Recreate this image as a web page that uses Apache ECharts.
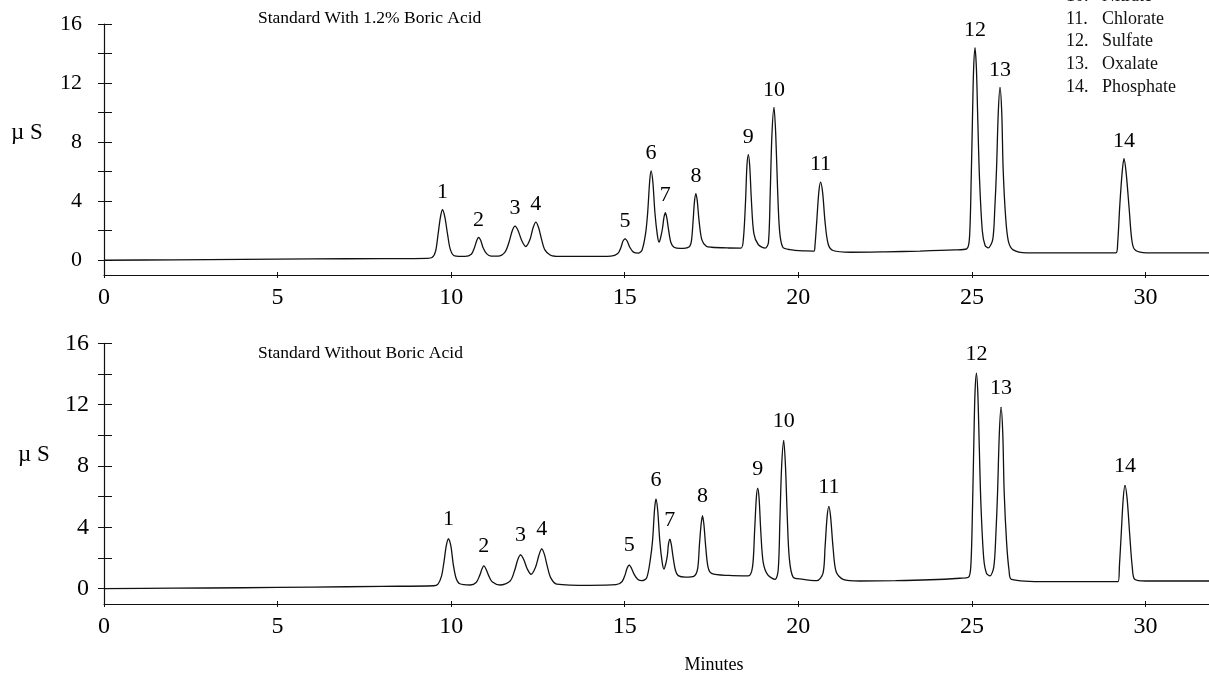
<!DOCTYPE html>
<html>
<head>
<meta charset="utf-8">
<title>Anion standard chromatograms</title>
<script src="https://cdn.jsdelivr.net/npm/echarts@6/dist/echarts.min.js"></script>
<style>
  html, body { margin: 0; padding: 0; background: #fff; }
  #chart { width: 1209px; height: 675px; }
</style>
</head>
<body>
<div id="chart"></div>
<script>
// ---- data ----------------------------------------------------------
const peakNumbers = ['1','2','3','4','5','6','7','8','9','10','11','12','13','14'];

// Retention time (min) and height (µS) of each numbered peak
const topPeakTimes   = [9.75, 10.79, 11.84, 12.44, 15.01, 15.76, 16.17, 17.05, 18.56, 19.30, 20.64, 25.09, 25.81, 29.38];
const topPeakHeights = [3.42, 1.54, 2.31, 2.58, 1.45, 6.04, 3.21, 4.50, 7.14, 10.33, 5.29, 14.37, 11.69, 6.87];
const botPeakTimes   = [9.92, 10.94, 12.00, 12.61, 15.13, 15.90, 16.30, 17.24, 18.83, 19.58, 20.88, 25.13, 25.84, 29.41];
const botPeakHeights = [3.24, 1.48, 2.20, 2.59, 1.54, 5.83, 3.22, 4.74, 6.54, 9.65, 5.35, 14.04, 11.82, 6.72];

// Detector trace between the peak maxima: [minutes, µS]
const topTrace = [
  [0, 0.00], [2, 0.03], [4, 0.06], [6, 0.09], [8, 0.11], [9.3, 0.13],
  [9.45, 0.18], [9.55, 0.6], [9.62, 1.7], [9.69, 2.9], [9.82, 2.9], [9.9, 1.7], [9.98, 0.7], [10.1, 0.3],
  [10.4, 0.26],
  [10.58, 0.4], [10.67, 0.85], [10.74, 1.35], [10.85, 1.35], [10.92, 0.85], [11.02, 0.45], [11.15, 0.28],
  [11.35, 0.28],
  [11.55, 0.55], [11.67, 1.25], [11.76, 2.0], [11.93, 2.0], [12.03, 1.35], [12.15, 0.93],
  [12.27, 1.4], [12.36, 2.2], [12.52, 2.2], [12.6, 1.45], [12.7, 0.7], [12.85, 0.35], [13.0, 0.27],
  [14.0, 0.26], [14.6, 0.28],
  [14.8, 0.45], [14.89, 0.86], [14.95, 1.3], [15.07, 1.3], [15.15, 0.86], [15.25, 0.55], [15.39, 0.48],
  [15.5, 0.7], [15.6, 1.8], [15.66, 3.2], [15.72, 5.4], [15.81, 5.3], [15.87, 3.2], [15.94, 1.7], [15.99, 1.22],
  [16.05, 1.7], [16.09, 2.2], [16.13, 2.9], [16.21, 2.9], [16.26, 2.1], [16.33, 1.2], [16.42, 0.88],
  [16.6, 0.8], [16.85, 0.9],
  [16.92, 1.3], [16.97, 2.7], [17.01, 4.0], [17.09, 4.0], [17.14, 2.7], [17.22, 1.4], [17.35, 0.95], [17.5, 0.88],
  [18.0, 0.83], [18.35, 0.82],
  [18.42, 1.5], [18.48, 4.0], [18.52, 6.4], [18.6, 6.4], [18.65, 4.0], [18.72, 1.8], [18.85, 1.05], [19.05, 0.82],
  [19.14, 1.2], [19.19, 4.5], [19.24, 8.5], [19.35, 8.5], [19.4, 5.0], [19.46, 2.0], [19.55, 0.9], [19.75, 0.72],
  [20.2, 0.63], [20.45, 0.62],
  [20.48, 1.0], [20.53, 2.6], [20.59, 4.6], [20.7, 4.6], [20.77, 2.6], [20.86, 1.1], [21.0, 0.66], [21.5, 0.54],
  [22.5, 0.57], [23.5, 0.62], [24.5, 0.7], [24.85, 0.77],
  [24.93, 1.5], [24.98, 5.5], [25.02, 10.0], [25.05, 13.0], [25.13, 13.0], [25.17, 9.5], [25.22, 5.5], [25.3, 2.0], [25.38, 1.0], [25.47, 0.84],
  [25.6, 1.4], [25.66, 3.5], [25.71, 6.2], [25.76, 10.0], [25.86, 10.0], [25.9, 6.2], [25.97, 3.0], [26.05, 1.3], [26.19, 0.7], [26.58, 0.5],
  [27.5, 0.5], [28.5, 0.5], [29.15, 0.5],
  [29.2, 1.2], [29.26, 3.7], [29.33, 6.0], [29.44, 6.0], [29.53, 3.5], [29.6, 1.5], [29.68, 0.75], [29.93, 0.52],
  [30.5, 0.5], [31.3, 0.5], [31.83, 0.5]
];

const botTrace = [
  [0, 0.00], [2, 0.03], [4, 0.06], [6, 0.1], [8, 0.15], [9.5, 0.19],
  [9.62, 0.3], [9.72, 0.8], [9.79, 1.7], [9.86, 2.8], [9.99, 2.8], [10.06, 1.6], [10.14, 0.7], [10.25, 0.32],
  [10.55, 0.24],
  [10.72, 0.4], [10.82, 0.85], [10.89, 1.3], [11.0, 1.3], [11.08, 0.85], [11.18, 0.45], [11.41, 0.24],
  [11.7, 0.5], [11.83, 1.2], [11.92, 1.9], [12.09, 1.9], [12.19, 1.3], [12.3, 0.94],
  [12.43, 1.4], [12.53, 2.2], [12.69, 2.2], [12.77, 1.45], [12.87, 0.7], [13.04, 0.3],
  [14.0, 0.22], [14.75, 0.26],
  [14.92, 0.45], [15.01, 0.9], [15.07, 1.35], [15.19, 1.35], [15.28, 0.9], [15.38, 0.6], [15.49, 0.52],
  [15.63, 0.7], [15.73, 1.8], [15.8, 3.1], [15.86, 5.2], [15.95, 5.1], [16.01, 3.1], [16.08, 1.7], [16.13, 1.28],
  [16.19, 1.7], [16.23, 2.2], [16.26, 2.9], [16.34, 2.9], [16.39, 2.1], [16.46, 1.2], [16.54, 0.85],
  [16.75, 0.75], [17.0, 0.82],
  [17.1, 1.3], [17.15, 2.8], [17.2, 4.2], [17.28, 4.2], [17.33, 2.8], [17.4, 1.4], [17.5, 1.0],
  [18.0, 0.86], [18.56, 0.83],
  [18.68, 1.4], [18.74, 3.7], [18.79, 5.9], [18.87, 5.9], [18.92, 3.7], [18.99, 1.7], [19.12, 0.9], [19.33, 0.61],
  [19.42, 1.2], [19.47, 4.5], [19.52, 8.0], [19.63, 8.0], [19.68, 4.8], [19.74, 2.0], [19.85, 0.75], [20.1, 0.62],
  [20.53, 0.52],
  [20.71, 1.0], [20.77, 2.7], [20.83, 4.7], [20.93, 4.7], [21.0, 2.7], [21.09, 1.1], [21.29, 0.61], [21.77, 0.5],
  [22.8, 0.52], [23.8, 0.58], [24.65, 0.68], [24.9, 0.74],
  [24.97, 1.5], [25.02, 5.5], [25.06, 10.0], [25.09, 12.8], [25.17, 12.8], [25.21, 9.5], [25.26, 5.5], [25.34, 2.0], [25.42, 1.0], [25.52, 0.83],
  [25.63, 1.4], [25.69, 3.5], [25.74, 6.3], [25.79, 10.1], [25.89, 10.1], [25.93, 6.3], [26.0, 3.0], [26.07, 1.2], [26.14, 0.61],
  [27.15, 0.46], [28.5, 0.46], [29.21, 0.46],
  [29.25, 1.5], [29.3, 3.5], [29.36, 5.9], [29.47, 5.9], [29.55, 3.4], [29.62, 1.4], [29.69, 0.61],
  [30.0, 0.5], [31.0, 0.5], [31.83, 0.5]
];

const xTickValues = [0, 5, 10, 15, 20, 25, 30];
const yLabelValues = [0, 4, 8, 12, 16];
const yTickValues = [0, 2, 4, 6, 8, 10, 12, 14, 16];

const legendNumbers = ['10.', '11.', '12.', '13.', '14.'];
const legendNames = ['Nitrate', 'Chlorate', 'Sulfate', 'Oxalate', 'Phosphate'];

const topTitle = 'Standard With 1.2% Boric Acid';
const botTitle = 'Standard Without Boric Acid';

// ---- build ---------------------------------------------------------
const SERIF = '"Liberation Serif", "Times New Roman", serif';
const INK = '#111';

function withApexes(trace, times, heights) {
  const pts = trace.concat(times.map((t, i) => [t, heights[i]]));
  return pts.sort((a, b) => a[0] - b[0]);
}
function peakPoints(times, heights) {
  return times.map((t, i) => ({ value: [t, heights[i]], name: peakNumbers[i] }));
}

const grids = [
  { left: 104, width: 1105, top: 24, height: 251 },
  { left: 104, width: 1105, top: 343.3, height: 260.7 }
];

function xAxes(gi) {
  const base = {
    gridIndex: gi, type: 'value', min: 0, max: 31.83, position: 'bottom',
    splitLine: { show: false }
  };
  return [
    Object.assign({}, base, {
      axisLine: { show: true, onZero: false, lineStyle: { color: INK, width: 1.2 } },
      axisTick: { show: true, inside: false, length: 3, customValues: xTickValues, lineStyle: { color: INK } },
      axisLabel: { show: true, customValues: xTickValues, margin: 11, color: '#000', fontFamily: SERIF, fontSize: 24 }
    }),
    Object.assign({}, base, {
      axisLine: { show: false, onZero: false },
      axisTick: { show: true, inside: true, length: 3, customValues: xTickValues, lineStyle: { color: INK } },
      axisLabel: { show: false }
    })
  ];
}
function yAxes(gi, labelMargin, labelSize) {
  const base = {
    gridIndex: gi, type: 'value', min: -1, max: 16, position: 'left',
    splitLine: { show: false }
  };
  return [
    Object.assign({}, base, {
      axisLine: { show: true, onZero: false, lineStyle: { color: INK, width: 1.2 } },
      axisTick: { show: true, inside: false, length: 6, customValues: yTickValues, lineStyle: { color: INK } },
      axisLabel: { show: true, customValues: yLabelValues, margin: labelMargin, color: '#000', fontFamily: SERIF, fontSize: labelSize }
    }),
    Object.assign({}, base, {
      axisLine: { show: false, onZero: false },
      axisTick: { show: true, inside: true, length: 8, customValues: yTickValues, lineStyle: { color: INK } },
      axisLabel: { show: false }
    })
  ];
}

function traceSeries(xi, yi, data) {
  return {
    type: 'line', xAxisIndex: xi, yAxisIndex: yi, data: data,
    showSymbol: false, smooth: 0.3, silent: true,
    lineStyle: { color: INK, width: 1.3 }, animation: false
  };
}
function labelSeries(xi, yi, data, dist) {
  return {
    type: 'scatter', xAxisIndex: xi, yAxisIndex: yi, data: data,
    symbolSize: 1, itemStyle: { color: '#000', opacity: 1 }, silent: true, animation: false,
    label: {
      show: true, position: 'top', distance: dist, formatter: p => p.name,
      color: '#000', opacity: 1, fontFamily: SERIF, fontSize: 22
    }
  };
}

const graphic = [
  { type: 'text', left: 258, top: 9, style: { text: topTitle, fill: '#000', font: '17.5px ' + SERIF } },
  { type: 'text', left: 258, top: 344, style: { text: botTitle, fill: '#000', font: '17.5px ' + SERIF } },
  { type: 'text', x: 27, y: 133, style: { text: 'µ S', fill: '#000', font: '23px ' + SERIF, align: 'center', verticalAlign: 'middle' } },
  { type: 'text', x: 34, y: 455, style: { text: 'µ S', fill: '#000', font: '23px ' + SERIF, align: 'center', verticalAlign: 'middle' } },
  { type: 'text', x: 714, y: 665, style: { text: 'Minutes', fill: '#000', font: '18px ' + SERIF, align: 'center', verticalAlign: 'middle' } }
];
legendNumbers.forEach((num, i) => {
  const y = -3.5 + i * 22.6;
  graphic.push({ type: 'text', x: 1066, y: y, style: { text: num, fill: '#111', font: '18px ' + SERIF, align: 'left', verticalAlign: 'middle' } });
  graphic.push({ type: 'text', x: 1102, y: y, style: { text: legendNames[i], fill: '#111', font: '18px ' + SERIF, align: 'left', verticalAlign: 'middle' } });
});

const option = {
  backgroundColor: '#fff',
  animation: false,
  grid: grids,
  xAxis: xAxes(0).concat(xAxes(1)),
  yAxis: yAxes(0, 22, 22).concat(yAxes(1, 15, 24)),
  series: [
    traceSeries(0, 0, withApexes(topTrace, topPeakTimes, topPeakHeights)),
    labelSeries(0, 0, peakPoints(topPeakTimes, topPeakHeights), 6),
    traceSeries(2, 2, withApexes(botTrace, botPeakTimes, botPeakHeights)),
    labelSeries(2, 2, peakPoints(botPeakTimes, botPeakHeights), 8)
  ],
  graphic: graphic
};

const chart = echarts.init(document.getElementById('chart'), null, { renderer: 'canvas' });
chart.setOption(option);
</script>
</body>
</html>
